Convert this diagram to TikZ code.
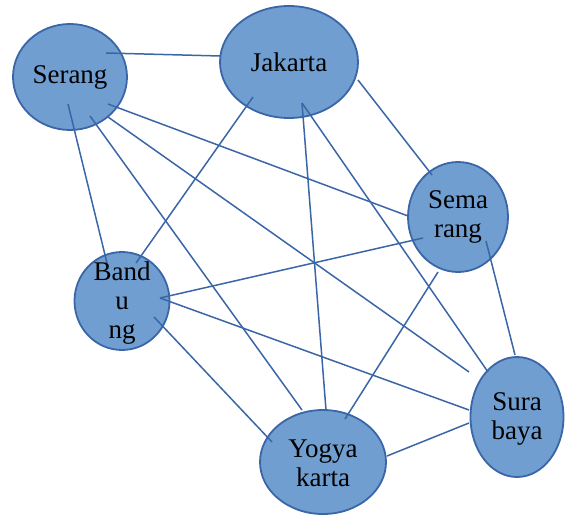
\documentclass[tikz,border=0pt]{standalone}
\usepackage{fontspec}
\setmainfont{Liberation Serif}
\usetikzlibrary{shapes.geometric}
\definecolor{cityfill}{RGB}{112,158,208}
\definecolor{cityline}{RGB}{58,102,168}
\tikzset{
  city/.style={ellipse, draw=cityline, line width=1.8pt, fill=cityfill, inner sep=0pt},
  cityname/.style={align=center, font=\fontsize{27}{29}\selectfont, text=black, inner sep=0pt},
  road/.style={draw=cityline, line width=1.5pt},
}
\begin{document}
\begin{tikzpicture}[x=1pt, y=-1pt]
\useasboundingbox (0,0) rectangle (565,516);

% cities
\node[city, minimum width=114pt, minimum height=106pt] (ser) at (70,77) {};
\node[city, minimum width=138pt, minimum height=112pt] (jak) at (289,62) {};
\node[city, minimum width=100pt, minimum height=110pt] (sem) at (458,217) {};
\node[city, minimum width=95pt,  minimum height=98pt]  (ban) at (122,301) {};
\node[city, minimum width=93pt,  minimum height=120pt] (sur) at (517,417) {};
\node[city, minimum width=126pt, minimum height=104pt] (yog) at (323,462) {};

% end points of the roads
\coordinate (ser-jak) at (106,53);   \coordinate (jak-ser) at (220,56);
\coordinate (ser-ban) at (68,104);   \coordinate (ban-ser) at (107,263);
\coordinate (ser-sem) at (108,104);  \coordinate (sem-ser) at (408,216);
\coordinate (ser-sur) at (108,117);  \coordinate (sur-ser) at (469,372);
\coordinate (ser-yog) at (90,116);   \coordinate (yog-ser) at (302,410);
\coordinate (jak-ban) at (253,97);   \coordinate (ban-jak) at (136,263);
\coordinate (jak-yog) at (302,103);  \coordinate (yog-jak) at (326,410);
\coordinate (jak-sur) at (302,103);  \coordinate (sur-jak) at (488,372);
\coordinate (jak-sem) at (358,80);   \coordinate (sem-jak) at (432,175);
\coordinate (ban-sem) at (160,298);  \coordinate (sem-ban) at (423,238);
\coordinate (ban-sur) at (160,298);  \coordinate (sur-ban) at (469,410);
\coordinate (ban-yog) at (154,317);  \coordinate (yog-ban) at (272,442);
\coordinate (sem-yog) at (438,272);  \coordinate (yog-sem) at (345,419);
\coordinate (sem-sur) at (486,241);  \coordinate (sur-sem) at (515,355);
\coordinate (yog-sur) at (387,456);  \coordinate (sur-yog) at (469,423);

% roads
\draw[road] (ser-jak) -- (jak-ser);
\draw[road] (ser-ban) -- (ban-ser);
\draw[road] (ser-sem) -- (sem-ser);
\draw[road] (ser-sur) -- (sur-ser);
\draw[road] (ser-yog) -- (yog-ser);
\draw[road] (jak-ban) -- (ban-jak);
\draw[road] (jak-yog) -- (yog-jak);
\draw[road] (jak-sur) -- (sur-jak);
\draw[road] (jak-sem) -- (sem-jak);
\draw[road] (ban-sem) -- (sem-ban);
\draw[road] (ban-sur) -- (sur-ban);
\draw[road] (ban-yog) -- (yog-ban);
\draw[road] (sem-yog) -- (yog-sem);
\draw[road] (sem-sur) -- (sur-sem);
\draw[road] (yog-sur) -- (sur-yog);

% names
\node[cityname] (ser-t) at (ser) {Serang};
\node[cityname] (jak-t) at (jak) {Jakarta};
\node[cityname] (sem-t) at (sem) {Sema\\rang};
\node[cityname] (ban-t) at ([yshift=-2pt]ban) {Band\\u\\ng};
\node[cityname] (sur-t) at ([yshift=-2pt]sur) {Sura\\baya};
\node[cityname] (yog-t) at ([yshift=-1pt]yog) {Yogya\\karta};
\end{tikzpicture}
\end{document}
